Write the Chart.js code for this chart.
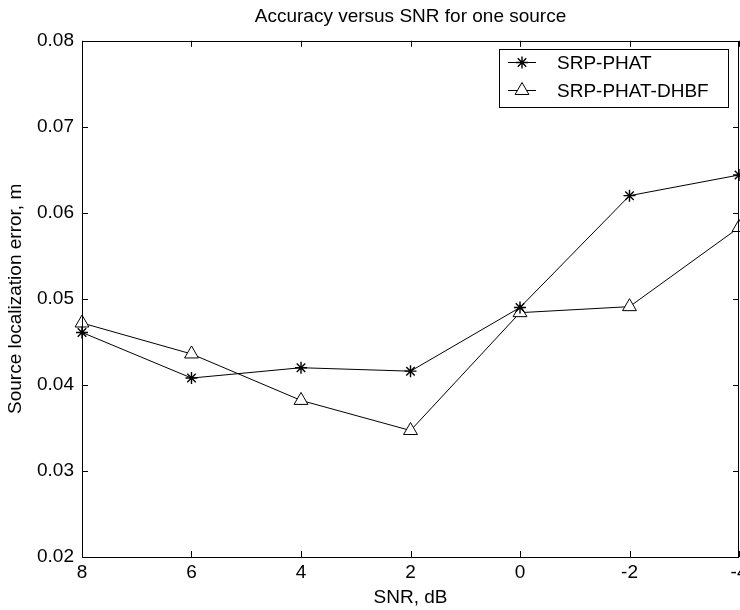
<!DOCTYPE html>
<html>
<head>
<meta charset="utf-8">
<title>Accuracy versus SNR for one source</title>
<script src="https://cdn.jsdelivr.net/npm/chart.js@4.4.1/dist/chart.umd.min.js"></script>
<style>
  html, body { margin: 0; padding: 0; background: #fff; }
  #wrap { width: 740px; height: 610px; }
</style>
</head>
<body>
<div id="wrap"><canvas id="myChart" width="740" height="610"></canvas></div>
<script>
// SNR in dB (axis runs from 8 down to -4)
var snr = [8, 6, 4, 2, 0, -2, -4]
var srpPhat = [0.0461, 0.0408, 0.0420, 0.0416, 0.0490, 0.0620, 0.0644]
var srpPhatDhbf = [0.0472, 0.0436, 0.0382, 0.0347, 0.0484, 0.0491, 0.0583]
var yTicks = [0.02, 0.03, 0.04, 0.05, 0.06, 0.07, 0.08]
var xTicks = [8, 6, 4, 2, 0, -2, -4]

var FONT = "'Liberation Sans', Arial, Helvetica, sans-serif"
var FONT_SIZE = 19

function toPoints(xs, ys) {
  return xs.map(function (x, i) {
    return { x: x, y: ys[i] }
  })
}

// white page behind the figure
var background = {
  id: 'background',
  beforeDraw: function (chart) {
    var ctx = chart.ctx
    ctx.save()
    ctx.fillStyle = '#fff'
    ctx.fillRect(0, 0, chart.width, chart.height)
    ctx.restore()
  }
}

// matlab style box with inward ticks on all four sides
var axesBox = {
  id: 'axesBox',
  afterDatasetsDraw: function (chart) {
    var ctx = chart.ctx
    var a = chart.chartArea
    var xs = chart.scales.x
    var ys = chart.scales.y
    var len = 6
    ctx.save()
    ctx.strokeStyle = '#000'
    ctx.lineWidth = 1
    ctx.beginPath()
    xTicks.forEach(function (t) {
      var px = Math.round(xs.getPixelForValue(t)) + 0.5
      ctx.moveTo(px, a.bottom)
      ctx.lineTo(px, a.bottom - len)
      ctx.moveTo(px, a.top)
      ctx.lineTo(px, a.top + len)
    })
    yTicks.forEach(function (t) {
      var py = Math.round(ys.getPixelForValue(t)) + 0.5
      ctx.moveTo(a.left, py)
      ctx.lineTo(a.left + len, py)
      ctx.moveTo(a.right, py)
      ctx.lineTo(a.right - len, py)
    })
    ctx.stroke()
    ctx.strokeRect(Math.round(a.left) + 0.5, Math.round(a.top) + 0.5,
      Math.round(a.right - a.left) - 1, Math.round(a.bottom - a.top))
    ctx.restore()
  }
}

// legend box with line + marker samples
var boxLegend = {
  id: 'boxLegend',
  afterDraw: function (chart) {
    var ctx = chart.ctx
    var left = 499, top = 49, w = 229, h = 58
    ctx.save()
    ctx.fillStyle = '#fff'
    ctx.fillRect(left, top, w, h)
    ctx.strokeStyle = '#000'
    ctx.lineWidth = 1
    ctx.strokeRect(left + 0.5, top + 0.5, w, h)
    ctx.font = FONT_SIZE + 'px ' + FONT
    ctx.textBaseline = 'middle'
    chart.data.datasets.forEach(function (ds, i) {
      var cy = top + 13.5 + i * 28
      ctx.lineWidth = 1
      ctx.beginPath()
      ctx.moveTo(508, cy)
      ctx.lineTo(536, cy)
      ctx.stroke()
      ctx.fillStyle = ds.backgroundColor
      ctx.lineWidth = ds.pointBorderWidth
      Chart.helpers.drawPoint(ctx, {
        pointStyle: ds.pointStyle,
        radius: ds.pointRadius,
        borderWidth: ds.pointBorderWidth
      }, 522, cy)
      ctx.fillStyle = '#000'
      ctx.fillText(ds.label, 557, cy + 1)
    })
    ctx.restore()
  }
}

function noEdgePadding(s) {
  s.paddingLeft = 0
  s.paddingRight = 0
  s.paddingTop = 0
  s.paddingBottom = 0
}

var chart = new Chart(document.getElementById('myChart'), {
  type: 'line',
  data: {
    datasets: [{
      label: 'SRP-PHAT',
      data: toPoints(snr, srpPhat),
      borderColor: '#000',
      backgroundColor: '#000',
      borderWidth: 1,
      pointStyle: 'star',
      pointRadius: 6,
      pointBorderWidth: 1.4,
      tension: 0,
      clip: false
    }, {
      label: 'SRP-PHAT-DHBF',
      data: toPoints(snr, srpPhatDhbf),
      borderColor: '#000',
      backgroundColor: '#fff',
      borderWidth: 1,
      pointStyle: 'triangle',
      pointRadius: 8,
      pointBorderWidth: 1,
      tension: 0,
      clip: false
    }]
  },
  options: {
    responsive: false,
    animation: false,
    layout: { autoPadding: false, padding: { left: 0, right: 1, top: 0, bottom: 0 } },
    plugins: {
      legend: { display: false },
      tooltip: { enabled: false },
      title: {
        display: true,
        fullSize: false,
        text: 'Accuracy versus SNR for one source',
        color: '#000',
        font: { family: FONT, size: FONT_SIZE, weight: 'normal' },
        padding: { top: 5, bottom: 13 }
      }
    },
    scales: {
      x: {
        type: 'linear',
        reverse: true,
        min: -4,
        max: 8,
        afterFit: function (s) {
          s.height = 53
          noEdgePadding(s)
        },
        afterBuildTicks: function (s) {
          s.ticks = xTicks.map(function (v) { return { value: v } })
        },
        grid: { display: false, drawTicks: false },
        border: { display: false },
        ticks: {
          color: '#000',
          padding: 4,
          maxRotation: 0,
          font: { family: FONT, size: FONT_SIZE },
          callback: function (v) { return String(v) }
        },
        title: {
          display: true,
          text: 'SNR, dB',
          color: '#000',
          font: { family: FONT, size: FONT_SIZE },
          padding: { top: 0, bottom: 1 }
        }
      },
      y: {
        min: 0.02,
        max: 0.08,
        afterFit: function (s) {
          s.width = 82
          noEdgePadding(s)
        },
        afterBuildTicks: function (s) {
          s.ticks = yTicks.map(function (v) { return { value: v } })
        },
        grid: { display: false, drawTicks: false },
        border: { display: false },
        ticks: {
          color: '#000',
          padding: 8,
          font: { family: FONT, size: FONT_SIZE },
          callback: function (v) { return v.toFixed(2) }
        },
        title: {
          display: true,
          text: 'Source localization error, m',
          color: '#000',
          font: { family: FONT, size: FONT_SIZE },
          padding: { top: 4, bottom: 0 }
        }
      }
    }
  },
  plugins: [background, axesBox, boxLegend]
})
</script>
</body>
</html>
